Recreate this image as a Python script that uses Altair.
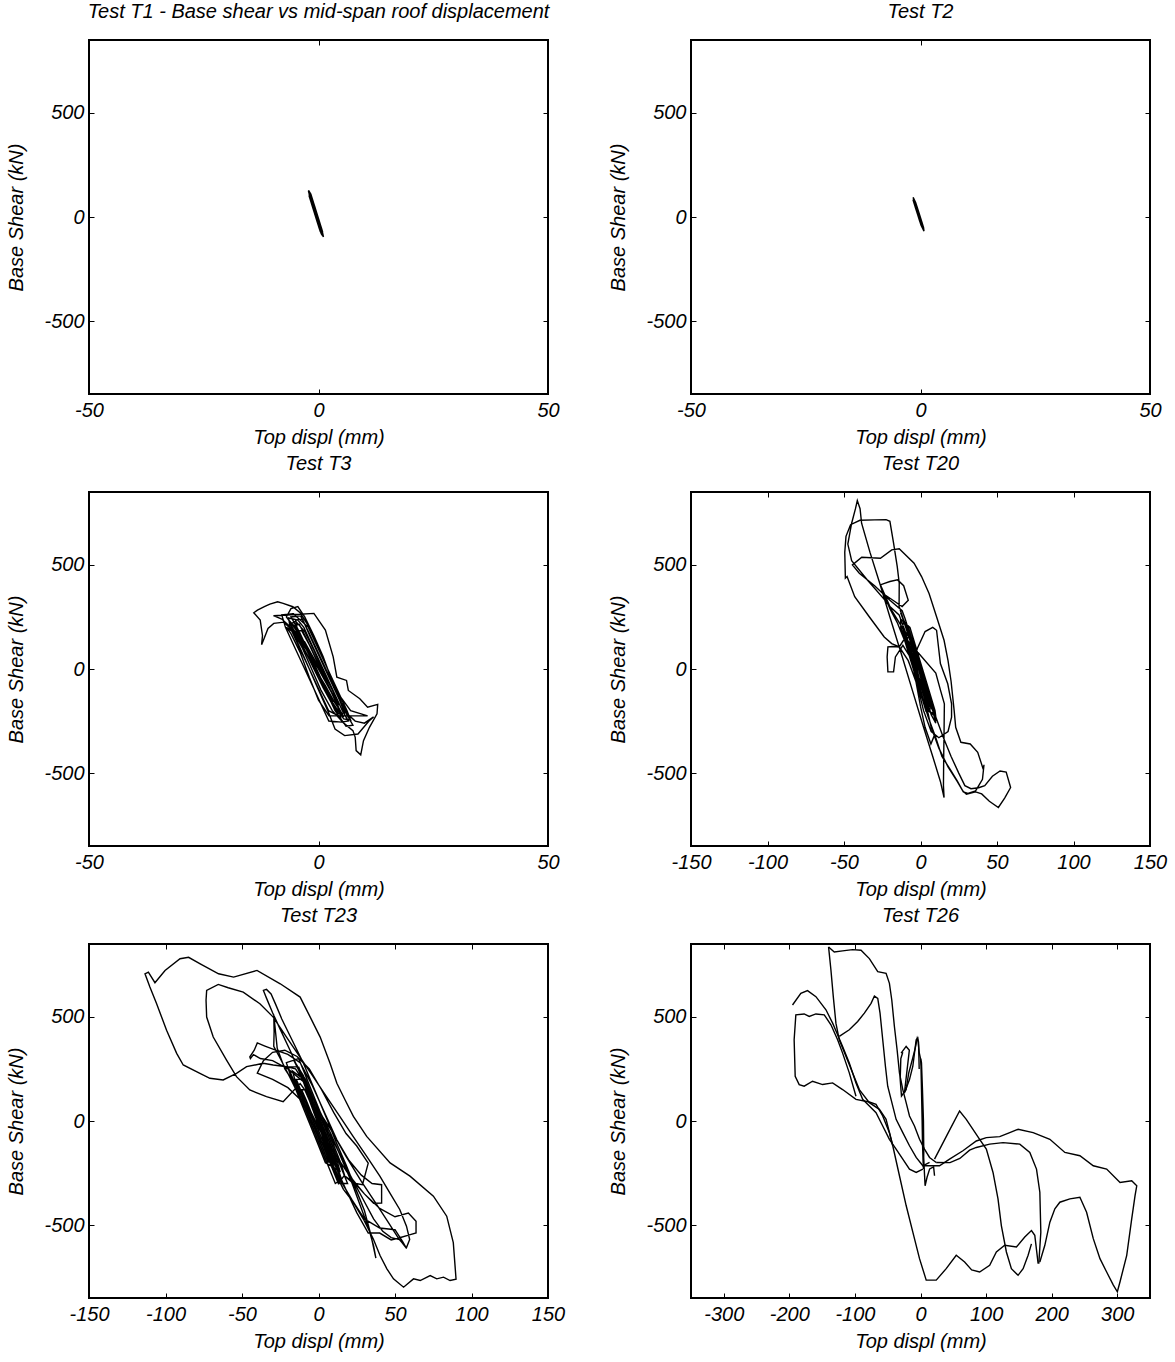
import altair as alt
import pandas as pd

FONT = "Liberation Sans"
Y_DOMAIN = [-850, 850]
Y_TICKS = [-500, 0, 500]
X_TITLE = "Top displ (mm)"
Y_TITLE = "Base Shear (kN)"

titles = ["Test T1 - Base shear vs mid-span roof displacement", "Test T2", "Test T3",
          "Test T20", "Test T23", "Test T26"]
x_domains = [[-50, 50], [-50, 50], [-50, 50], [-150, 150], [-150, 150], [-350, 350]]
x_ticks = [[-50, 0, 50], [-50, 0, 50], [-50, 0, 50],
           [-150, -100, -50, 0, 50, 100, 150], [-150, -100, -50, 0, 50, 100, 150],
           [-300, -200, -100, 0, 100, 200, 300]]

# (top displacement mm, base shear kN)
t1 = [(-0.36, 0), (-1.18, 40), (-1.88, 90), (-2.17, 128), (-1.67, 110), (-1.10, 70), (-0.47, 25),
      (0.17, -20), (0.74, -60), (1.08, -95), (0.38, -70), (-0.19, -30), (-0.83, 15), (-1.46, 60),
      (-2.03, 100), (-1.95, 112), (-1.10, 70), (-0.40, 20), (0.31, -30), (0.88, -70), (0.88, -88),
      (0.24, -60), (-0.33, -20), (-1.04, 30), (-1.67, 75), (-2.03, 118), (-1.53, 100), (-0.89, 55),
      (-0.18, 5), (0.52, -45), (0.80, -82), (0.31, -65), (-0.26, -25), (-0.97, 25), (-1.60, 70),
      (-1.71, 95), (-1.36, 88), (-0.68, 40), (0.03, -10), (0.59, -50), (0.63, -70), (0.16, -55),
      (-0.47, -10), (-1.96, 120), (-1.39, 80), (-0.83, 40), (-0.26, 0), (0.30, -40), (0.87, -80),
      (0.39, -60), (-0.18, -20), (-0.75, 20), (-1.31, 60), (-1.88, 100), (-2.20, 125), (-1.92, 110),
      (-1.35, 70), (-0.79, 30), (-0.22, -10), (0.34, -50), (0.91, -90), (0.59, -80), (0.05, -40),
      (-0.51, 0), (-1.08, 40), (-1.64, 80), (-2.00, 105)]

t2 = [(-0.25, 0), (-0.74, 20), (-1.17, 50), (-1.60, 94), (-1.06, 70), (-0.48, 30), (0.09, -10),
      (0.66, -50), (0.76, -68), (0.12, -40), (-0.45, 0), (-1.03, 40), (-1.60, 80), (-1.50, 85),
      (-0.77, 50), (-0.20, 10), (0.38, -30), (0.65, -60), (-0.17, -20), (-0.88, 30), (-1.46, 70),
      (-1.30, 75), (-1.40, 80), (-0.83, 40), (-0.25, 0), (0.32, -40), (0.60, -60), (0.43, -50),
      (0.13, -20), (-0.44, 20), (-1.01, 60), (-1.50, 88), (-1.30, 75), (-0.73, 35), (-0.15, -5),
      (0.42, -45), (0.70, -65)]

t3 = [(0, 0), (-2, 70), (-4, 140), (-6, 210), (-6.5, 235), (-5, 200), (-3, 120), (-1, 40), (1, -40),
      (3, -120), (4.5, -190), (5.5, -230), (4, -200), (2, -120), (0, -30), (-2, 50), (-4, 130),
      (-6, 200), (-8, 240), (-9.8, 256), (-5, 262), (-1, 267), (1.5, 187), (3.2, 58), (4, -39),
      (6.1, -55), (6.5, -103), (9, -143), (10.7, -183), (12.9, -170), (12.75, -215), (11.1, -280),
      (9.8, -344), (9.2, -412), (8.2, -392), (8, -328), (7.5, -296), (5.5, -260), (3, -200),
      (0.5, -100), (-1.5, 0), (-3.5, 100), (-5.5, 180), (-7.5, 225), (-9.75, 219), (-11, 195),
      (-12, 138), (-12.4, 117), (-12.2, 160), (-12.7, 235), (-14.1, 270), (-13.3, 283),
      (-11.8, 299), (-10.6, 312), (-8.9, 323), (-7.7, 315), (-5.6, 299), (-4, 270), (-2, 200),
      (0, 100), (2, 0), (3.5, -80), (5, -160), (6.5, -220), (8, -250), (10, -260), (12, -230),
      (11, -250), (8.6, -312), (5.7, -320), (3.6, -288), (2.3, -215), (1, -150), (-1, -50),
      (-3, 50), (-5, 150), (-6.5, 210), (-5, 230), (-3, 180), (-1, 90), (1, -10), (3, -100),
      (4.5, -170), (3, -150), (1, -70), (-1, 20), (-3, 110), (-5, 190), (-7, 250), (-6, 290),
      (-4.5, 300), (-3, 250), (-1, 160), (1, 60), (2.5, -30), (4, -110), (6, -170), (7, -200),
      (10.7, -225), (2.3, -225), (0, -150), (-2, -40), (-4, 80), (-6, 170), (-7, 200), (-5, 170),
      (-3, 90), (-1, 10), (1.5, -80), (3.5, -160), (5, -210), (3, -170), (1, -90), (-1, 0),
      (-3, 90), (-4.5, 160), (-3, 130), (-1, 50), (1, -30), (2.5, -100), (4, -150),
      (4.8, -230), (2.2, -200), (0.1, -100), (-2, 0), (-4.1, 100), (-6.2, 200), (-6.5, 245),
      (-4.5, 235), (-3.2, 200), (-1.1, 100), (1, 0), (3.1, -100), (5.2, -200), (6.5, -250),
      (5, -255), (2.25, -250), (-0.9, -100), (-3, 0), (-5.1, 100), (-7.2, 200), (-8, 260),
      (-5.5, 265), (-2.2, 200), (-0.1, 100), (2, 0), (4.1, -100), (6.2, -200), (7, -245),
      (5.5, -240), (2.7, -150), (0.6, -50), (-1.5, 50), (-3.6, 150), (-5.2, 210), (-4.2, 215),
      (-2.7, 150), (-0.6, 50), (1.5, -50), (3.6, -150), (4.5, -190), (3.5, -195), (1.6, -100),
      (-0.5, 0), (-2.6, 100), (-4.7, 200), (-5, 235), (-3.5, 240), (-1.7, 150), (0.4, 50),
      (2.5, -50), (4.6, -150), (5.7, -210), (4.2, -215), (2.1, -120), (0, -20), (-2.1, 80),
      (-4.2, 180), (-6, 250), (-3.9, 255), (-2.2, 180), (-0.1, 80), (2, -20), (4.1, -120),
      (6.2, -220), (7.5, -270), (6, -275), (3.6, -200), (1.5, -100), (-0.6, 0), (-2.7, 100),
      (-4.8, 180), (-3.7, 185), (-1.6, 100), (0.5, 0), (2.6, -100), (4.2, -170)]

t20 = [(0, 0), (-4, 80), (-8, 170), (-10, 220), (-7, 170), (-3, 60), (1, -50), (5, -140), (7, -190),
       (5, -160), (1, -60), (-3, 40), (-7, 140), (-11, 230), (-13, 270), (-9, 200), (-4, 80),
       (0, -20), (4, -120), (8, -200), (10, -260), (7, -220), (3, -120), (-1, -10), (-5, 100),
       (-9, 190), (-14, 300), (-13.9, 412), (-15.2, 492), (-17.6, 605), (-20, 709), (-22.5, 717),
       (-30, 716), (-39.6, 714), (-45.7, 693), (-48.7, 637), (-49.5, 560), (-49.1, 436), (-48, 444),
       (-43, 347), (-33.5, 251), (-23.7, 154), (-18.8, 122), (-13.9, 106), (-8, 40), (-3, -60),
       (2, -160), (5, -230), (10, -330), (14, -420), (20, -489), (24, -537), (27.6, -585),
       (30, -601), (36, -590), (40, -600), (45, -635), (50.9, -665), (55, -620), (58.9, -569),
       (56, -495), (52, -490), (47, -515), (42, -560), (38, -570), (33, -575), (29, -560),
       (25, -500), (20, -420), (15, -330), (10, -230), (5, -120), (0, 0), (-5, 120), (-10, 240),
       (-12, 280), (-20, 330), (-30, 400), (-40, 460), (-44.5, 500), (-38.4, 537), (-26.2, 532),
       (-18.8, 572), (-13.9, 577), (-4.2, 508), (0.7, 444), (5.6, 363), (10.5, 251), (15.4, 138),
       (18, 40), (20, -60), (22, -200), (23, -280), (26.4, -352), (32.5, -360), (37.4, -400),
       (39.9, -456), (41, -481), (41.5, -460), (40.5, -530), (36, -585), (31, -598), (28, -590),
       (24, -540), (18, -470), (12, -380), (7, -280), (3, -150), (-1, -40), (-5, 80), (-12, 200),
       (-22, 320), (-35, 430), (-45, 520), (-47.5, 600), (-45, 700), (-42.5, 770), (-41.3, 809),
       (-39.5, 770), (-38.5, 700), (-33, 560), (-27, 420), (-20, 250), (-12, 60), (-5, -110),
       (2, -280), (8, -420), (13, -540), (15.4, -617), (15, -560), (15.2, -400), (15.4, -300),
       (15.6, -167), (13, -100), (10, -20), (-10, 150), (-13.9, 106), (-18, 108), (-21.3, 106),
       (-21.8, 58), (-21.3, -14), (-17.6, -14), (-16.4, 58), (-11.5, 114), (-7, 60), (-3, -40),
       (2, -150), (6, -250), (9, -320), (6.8, -360), (3, -280), (0, -180), (-3, -60), (-6, 60),
       (-10, 180), (-14, 260), (-20, 300), (-26.2, 404), (-24, 410), (-20, 420), (-15, 428),
       (-11, 400), (-8, 330), (-12, 300), (-18, 330), (-24, 360), (-20, 290), (-15, 220),
       (-10, 130), (-5, 20), (-2, 100), (3, 180), (8, 200), (10.5, 186), (13, 26), (17.8, -71),
       (20.3, -167), (20.3, -231), (18, -300), (12, -330), (7, -300), (2, -200), (-2, -80),
       (-6, 40), (0, 0), (0.4, -100), (-3.7, 0), (-7.8, 100), (-11.9, 200), (-11, 225),
       (-7.9, 200), (-3.8, 100), (0.3, 0), (4.4, -100), (8.5, -200), (8, -215), (5.5, -200),
       (1.4, -100), (-2.7, 0), (-6.8, 100), (-8.85, 150), (-9, 170), (-6.85, 150), (-4.8, 100),
       (-0.7, 0), (3.4, -100), (5.45, -150), (6, -175), (3.5, -200), (-0.6, -100), (-4.7, 0),
       (-8.8, 100), (-12.9, 200), (-13, 240), (-6.9, 200), (-2.8, 100), (1.3, 0), (5.4, -100),
       (9.5, -200), (10, -230), (5, -200), (0.9, -100), (-3.2, 0), (-7.3, 100), (-9.35, 150),
       (-6.35, 150), (-4.3, 100), (-0.2, 0), (3.9, -100), (5.95, -150), (7, -190), (4, -200),
       (-0.1, -100), (-4.2, 0), (-8.3, 100), (-10.35, 150), (-11.5, 180), (-5.35, 150),
       (-3.3, 100), (0.8, 0), (4.9, -100), (9, -200), (10.5, -250)]

t23 = [(0, 0), (-5, 100), (-10, 200), (-13, 260), (-9, 180), (-3, 50), (3, -60), (8, -160),
       (12, -230), (9, -190), (3, -80), (-3, 40), (-8, 150), (-12, 230), (-16, 290), (-10, 220),
       (-4, 100), (2, -20), (7, -120), (13, -240), (16, -300), (12, -260), (6, -140), (0, -20),
       (-6, 110), (-11, 210), (-18, 330), (-25, 440), (-30, 520), (-34, 590), (-36, 627),
       (-34, 632), (-31, 610), (-28, 560), (-24, 490), (-18, 400), (-10, 280), (-2, 140), (6, 0),
       (12, -110), (18, -210), (24, -320), (30, -430), (34, -540), (37.5, -659), (36, -600),
       (33, -520), (28, -420), (22, -300), (15, -180), (8, -60), (0, 60), (-8, 170), (-15, 250),
       (-22, 262), (-29.6, 269), (-36.1, 277), (-47, 261), (-53.6, 229), (-62.3, 197), (-71, 205),
       (-77.5, 229), (-88.4, 269), (-92.7, 325), (-99.3, 436), (-105.8, 563), (-110.2, 643),
       (-113.4, 707), (-111.2, 715), (-106.9, 664), (-100.3, 723), (-90.5, 779), (-84.9, 786),
       (-77.3, 755), (-65.3, 707), (-55.5, 691), (-40.2, 723), (-25, 659), (-12, 595),
       (-5.4, 499), (1.1, 403), (7.6, 276), (12, 181), (17.4, 101), (22.8, 22), (31.5, -74),
       (46.8, -201), (59.8, -265), (75.1, -361), (83.8, -457), (88.1, -584), (89.9, -760),
       (86, -766), (81.7, -750), (77.3, -758), (73, -742), (66.5, -766), (62.1, -758),
       (55.6, -798), (49, -758), (44.7, -710), (40.3, -647), (35.9, -568), (29.4, -472),
       (22.9, -392), (16.3, -328), (9.8, -232), (5.4, -136), (1.1, -41), (-4, 60), (-8, 140),
       (-12, 180), (-23.1, 93), (-34, 117), (-44.9, 149), (-53.6, 213), (-60.1, 292),
       (-68.8, 403), (-73.1, 499), (-73.5, 580), (-73.1, 627), (-65.5, 656), (-59, 640),
       (-49.2, 619), (-38.3, 563), (-29.6, 499), (-20.9, 403), (-12.2, 308), (-3.5, 213),
       (5.2, 117), (13.9, 22), (22.6, -74), (31.4, -169), (40.1, -265), (46.6, -345),
       (53.1, -425), (57.5, -505), (59.6, -569), (57.5, -608), (53, -570), (47.5, -560),
       (42, -530), (36, -470), (28, -360), (20, -250), (12, -130), (4, -20), (-4, 90), (-10, 190),
       (-20, 250), (-30, 290), (-38, 300), (-42.5, 319), (-44.5, 300), (-44.9, 308), (-42, 340),
       (-40, 375), (-35, 360), (-28, 340), (-20, 320), (-12, 280), (-4, 170), (4, 40), (12, -90),
       (20, -190), (28, -260), (35, -300), (41.25, -306), (41.25, -394), (36, -395), (30, -350),
       (24, -300), (17.5, -266), (22.5, -298), (28.75, -306), (32.5, -202), (25, -120),
       (18, -60), (10, 40), (2, 150), (-6, 250), (-14, 310), (-22, 340), (-30, 330), (-36, 290),
       (-40, 230), (-30, 200), (-20, 160), (-10, 90), (0, -30), (10, -150), (20, -260),
       (30, -350), (40, -420), (50, -460), (58.75, -442), (63.75, -482), (63.75, -538),
       (60, -546), (52.5, -562), (47.5, -571), (40, -538), (32.5, -538), (25, -440), (18, -330),
       (10, -200), (2, -60), (-6, 60), (-14, 160), (-22, 250), (-27, 350), (-29.25, 511),
       (-29, 430), (-29.25, 359), (-25, 300), (-18, 200), (-10, 80), (-2, -40), (6, -160),
       (14, -280), (22, -380), (30, -470), (40, -514), (50, -522), (55, -579), (57.5, -611),
       (52, -560), (45, -480), (37, -390), (28, -290), (18, -170), (8, -40), (0, 50),
       (6.5, -200), (1, -100), (-4.5, 0), (-10, 100), (-15.5, 200), (-17, 240), (-9.5, 200),
       (-4, 100), (1.5, 0), (7, -100), (12.5, -200), (14, -240), (4.5, -200), (-1, -100),
       (-6.5, 0), (-12, 100), (-17.5, 200), (-21, 280), (-13, 300), (-7.5, 200), (-2, 100),
       (3.5, 0), (9, -100), (14.5, -200), (17, -260), (13, -300), (7.5, -200), (2, -100),
       (-3.5, 0), (-9, 100), (-14.5, 200), (-10.5, 200), (-5, 100), (0.5, 0), (6, -100),
       (11.5, -200), (15, -280), (11, -300), (5.5, -200), (0, -100), (-5.5, 0), (-11, 100),
       (-16.5, 200), (-20, 260), (-14, 260), (-8.5, 200), (-3, 100), (2.5, 0), (8, -100),
       (13.5, -200), (19, -300), (14, -300), (8.5, -200), (3, -100), (-2.5, 0), (-8, 100),
       (-11, 150), (-9, 150), (-6, 100), (-0.5, 0), (5, -100), (10.5, -200)]

t26_a = [(-140.2, 836), (-131.5, 812), (-118.8, 817), (-103.5, 823), (-90.7, 820), (-78, 780),
         (-65.2, 717), (-52.5, 709), (-47.4, 661), (-43.8, 581), (-39.8, 454), (-35.7, 342),
         (-32.1, 231), (-27, 151), (-21.9, 88), (-16.8, 24), (-9.2, -24), (-1.5, -88),
         (6.1, -135), (13.8, -175), (24, -199)]
t26_b = [(-140.2, 836), (-136.6, 725), (-133, 597), (-129, 470), (-123.9, 390), (-113.7, 311),
         (-103.5, 231), (-93.3, 151), (-78, 88), (-62.7, 56), (-52.5, 8), (-42.3, -119),
         (-32.1, -263), (-21.9, -406), (-11.7, -534), (-1.5, -661), (8.7, -764), (24, -764),
         (39.2, -709), (54.5, -645), (67.3, -677), (78, -715), (90.2, -725), (105.5, -693),
         (115.7, -629), (128.4, -597), (146.3, -605), (159, -557), (169.2, -526), (174.3, -549),
         (179.4, -685)]
t26_c = [(-123.9, 406), (-108.6, 438), (-95.8, 478), (-85.6, 518), (-75.4, 565), (-70.3, 600),
         (-65.2, 589), (-61.7, 518), (-57.6, 390), (-53.5, 263), (-50, 167), (-44.9, 104),
         (-37.2, 8), (-27, -56), (-16.8, -119), (-6.6, -175), (3.6, -215), (13.8, -199)]
t26_d = [(-195.2, 557), (-182.5, 613), (-172.3, 626), (-159.5, 597), (-144.2, 534), (-134, 470),
         (-126.4, 414), (-118.8, 358), (-108.6, 279), (-98.4, 183), (-88.2, 104), (-78, 72),
         (-67.8, 40), (-57.6, -24), (-47.4, -88), (-37.2, -135), (-27, -183), (-16.8, -231),
         (-6.6, -247), (3.6, -231)]
t26_e = [(-98.4, 119), (-108.6, 231), (-118.8, 326), (-126.4, 390), (-136.6, 462), (-146.8, 510),
         (-159.5, 514), (-169.7, 502), (-177.4, 514), (-190.1, 510), (-192.7, 390), (-191.1, 215),
         (-185, 175), (-177.4, 167), (-164.6, 191), (-149.3, 175), (-134, 183), (-118.8, 151),
         (-98.4, 104), (-78, 91), (-67.8, 80), (-57.6, 24), (-47.4, -56), (-42.3, -119)]
t26_f = [(3.6, -215), (29, -215), (44.3, -183), (64.7, -143), (85.1, -96), (100.4, -80),
         (120.8, -75), (136.1, -56), (148.8, -40), (171.8, -56), (197.3, -88), (220.2, -151),
         (243.1, -167), (263.5, -215), (283.9, -231), (304.3, -295), (322.1, -287), (329.8, -311),
         (327.2, -358), (322.1, -470), (314.5, -645), (304.3, -772), (300.2, -820), (294.1, -788),
         (283.9, -725), (273.7, -661), (263.5, -565), (253.3, -438), (243.1, -366), (227.8, -374),
         (212.5, -390), (204.9, -422), (197.3, -486), (189.6, -597), (182, -677)]
t26_g = [(24, -199), (45, -200), (60, -180), (74.9, -140), (85.1, -127), (105.5, -111),
         (125.9, -104), (151.4, -111), (166.7, -151), (176.9, -231), (182, -342), (183.5, -534),
         (180.4, -685)]
t26_h = [(21.4, -183), (40, -70), (59.6, 48), (69.8, 8), (80, -40), (90.2, -88), (100.4, -135),
         (110.6, -247), (118.2, -374), (123.3, -502), (131, -629), (138.6, -709), (148.8, -741),
         (156.5, -709), (164.1, -645), (169.2, -590)]
t26_i = [(-29.6, 326), (-21.9, 358), (-17, 340), (-24.5, 135), (-16.8, 199), (-11.7, 263),
         (-6.6, 390), (-4.1, 398), (-2, 330), (0, 300), (2, 200), (3, 100), (4, 0), (4.5, -100),
         (4, -200), (3, -100), (2.5, 0), (1.5, 150), (0.5, 300), (1.5, 280), (3, 150), (4.5, 0),
         (5, -150), (4.5, -230), (3.5, -150), (2.5, 0), (1.5, 150), (1, 250), (2, 150), (3.5, 0),
         (4.5, -150), (6, -250), (7, -311), (10, -270), (14, -230), (20, -220), (21.4, -263)]
t26_j = [(-27, 330), (-30, 300), (-31, 200), (-29, 120), (-22, 150), (-18, 230), (-12, 300),
         (-8, 350), (-5, 398), (-3, 380), (-2, 250)]

panel_data = [[t1], [t2], [t3], [t20], [t23],
              [t26_a, t26_b, t26_c, t26_d, t26_e, t26_f, t26_g, t26_h, t26_i, t26_j]]


def make_panel(title, segments, xdom, xtk):
    rows = []
    for s, seg in enumerate(segments):
        for i, (x, y) in enumerate(seg):
            rows.append({"x": x, "y": y, "seg": s, "i": i})
    df = pd.DataFrame(rows)
    xs = alt.Scale(domain=xdom, nice=False, zero=False)
    ys = alt.Scale(domain=Y_DOMAIN, nice=False, zero=False)
    base = alt.Chart(df)
    line = base.mark_line(color="black", strokeWidth=1.4, clip=True).encode(
        x=alt.X("x:Q", scale=xs, axis=alt.Axis(
            orient="bottom", values=xtk, ticks=False, domain=False, grid=False,
            labelExpr="'' + datum.value", labelFlush=False, labelOverlap=False,
            labelPadding=6, title=X_TITLE, titlePadding=7)),
        y=alt.Y("y:Q", scale=ys, axis=alt.Axis(
            orient="left", values=Y_TICKS, ticks=False, domain=False, grid=False,
            labelExpr="'' + datum.value", labelOverlap=False,
            labelPadding=5, title=Y_TITLE, titlePadding=17)),
        detail="seg:N", order="i:Q")
    inner_tr = base.mark_line(strokeOpacity=0).encode(
        x=alt.X("x:Q", scale=xs, axis=alt.Axis(
            orient="top", values=xtk, labels=False, ticks=True, tickSize=5, domain=False,
            grid=False, offset=-5, title=None)),
        y=alt.Y("y:Q", scale=ys, axis=alt.Axis(
            orient="right", values=Y_TICKS, labels=False, ticks=True, tickSize=5, domain=False,
            grid=False, offset=-5, title=None)),
        detail="seg:N", order="i:Q")
    inner_bl = base.mark_line(strokeOpacity=0).encode(
        x=alt.X("x:Q", scale=xs, axis=alt.Axis(
            orient="bottom", values=xtk, labels=False, ticks=True, tickSize=5, domain=False,
            grid=False, offset=-5, title=None)),
        y=alt.Y("y:Q", scale=ys, axis=alt.Axis(
            orient="left", values=Y_TICKS, labels=False, ticks=True, tickSize=5, domain=False,
            grid=False, offset=-5, title=None)),
        detail="seg:N", order="i:Q")
    return alt.layer(line, inner_tr, inner_bl).resolve_axis(
        x="independent", y="independent").properties(
        width=459, height=354, title=alt.TitleParams(title, anchor="middle", offset=18))


charts = [make_panel(t, d, xd, xt) for t, d, xd, xt in zip(titles, panel_data, x_domains, x_ticks)]

chart = alt.concat(*charts, columns=2, spacing={"row": 4, "column": 41}).properties(
    padding={"left": 5, "top": 0, "right": 5, "bottom": 5}
).configure_view(stroke="black", strokeWidth=2).configure_axis(
    labelFont=FONT, labelFontSize=20, labelFontStyle="italic", labelColor="black",
    titleFont=FONT, titleFontSize=20, titleFontStyle="italic", titleFontWeight="normal",
    titleColor="black", tickColor="black", tickWidth=1
).configure_title(font=FONT, fontSize=20, fontStyle="italic", fontWeight="normal", color="black")

chart.save("out.html", embed_options={"renderer": "svg", "actions": False})
